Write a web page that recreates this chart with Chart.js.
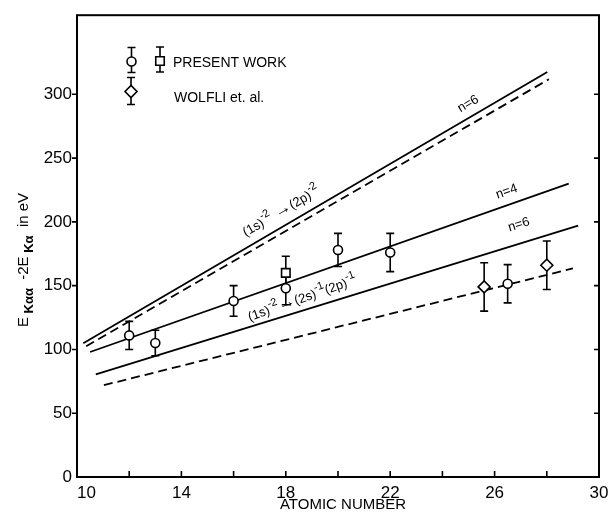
<!DOCTYPE html>
<html><head><meta charset="utf-8">
<script src="https://cdn.jsdelivr.net/npm/chart.js@4/dist/chart.umd.min.js"></script>
<style>html,body{margin:0;padding:0;background:#fff}#c{display:block}</style>
</head><body>
<div style="width:616px;height:517px"><canvas id="c" width="616" height="517"></canvas></div>
<script>
// ---- data ----
const presentZ   = [12, 13, 16, 18, 20, 22, 26.5];
const presentE   = [111, 105, 138, 148, 178, 176, 151.5];
const presentErr = [11, 10, 12, 13, 13, 15, 15];
const squareZ    = [18];
const squareE    = [160];
const squareErr  = [13];
const wolfliZ    = [25.6, 28];
const wolfliE    = [149, 166];
const wolfliErr  = [19, 19];
// theory lines: end points [Z], [E]
const dkSolidZ = [10.24, 28.02], dkSolidE = [104.8, 317.4];
const dkDashZ  = [10.35, 28.08], dkDashE  = [102.5, 311.8];
const n4Z      = [10.5, 28.84],  n4E      = [98, 230];
const n6Z      = [10.72, 29.2],  n6E      = [80.5, 197];
const lowDashZ = [11.03, 29.0],  lowDashE = [72, 163.5];
const xTickLabels = [10, 14, 18, 22, 26, 30];
const yTickLabels = [0, 50, 100, 150, 200, 250, 300];

const FONT = '"Liberation Sans", Arial, sans-serif';
const pts = (zs, es) => zs.map((z, i) => ({x: z, y: es[i]}));

const annotations = [
  {z: 25.06, e: 290, line: 'dkSolid', parts: [{t: 'n=6'}]},
  {z: 26.51, e: 221, line: 'n4', parts: [{t: 'n=4'}]},
  {z: 26.97, e: 195, line: 'n6', parts: [{t: 'n=6'}]},
  {z: 17.9, e: 205.5, line: 'dkSolid', parts: [{t: '(1s)'}, {t: '-2', s: 'sup'}, {t: ' \u2192', s: 'big'}, {t: '(2p)'}, {t: '-2', s: 'sup'}]},
  {z: 18.68, e: 137, line: 'n4', parts: [{t: '(1s)'}, {t: '-2', s: 'sup'}, {t: '\u2192', s: 'big'}, {t: '(2s)'}, {t: '-1', s: 'sup'}, {t: '(2p)'}, {t: '-1', s: 'sup'}]}
];

function setFont(ctx, p, size) {
  const sz = p.s === 'big' ? size + 4 : (p.s === 'sup' || p.s === 'sub') ? size - 2 : size;
  ctx.font = (p.s === 'sub' ? 'bold ' : '') + sz + 'px ' + FONT;
}
function drawRich(ctx, parts, x, y, ang, size, align) {
  ctx.save();
  ctx.translate(x, y);
  ctx.rotate(ang);
  let w = 0;
  parts.forEach(p => { setFont(ctx, p, size); w += ctx.measureText(p.t).width; });
  let cx = align === 'left' ? 0 : -w / 2;
  ctx.textBaseline = 'alphabetic';
  ctx.textAlign = 'left';
  ctx.fillStyle = '#000';
  parts.forEach(p => {
    setFont(ctx, p, size);
    const dy = p.s === 'sup' ? -size * 0.5 : (p.s === 'sub' ? size * 0.35 : 0);
    ctx.fillText(p.t, cx, dy);
    cx += ctx.measureText(p.t).width;
  });
  ctx.restore();
}

const errorBars = {
  id: 'errorBars',
  beforeDatasetsDraw(chart) {
    const ctx = chart.ctx, xs = chart.scales.x, ys = chart.scales.y;
    ctx.save();
    ctx.strokeStyle = '#000';
    ctx.lineWidth = 1.6;
    chart.data.datasets.forEach(ds => {
      if (!ds.errors) return;
      ds.data.forEach((p, i) => {
        const px = xs.getPixelForValue(p.x);
        const t = ys.getPixelForValue(p.y + ds.errors[i]);
        const b = ys.getPixelForValue(p.y - ds.errors[i]);
        ctx.beginPath();
        ctx.moveTo(px, t); ctx.lineTo(px, b);
        ctx.moveTo(px - 4, t); ctx.lineTo(px + 4, t);
        ctx.moveTo(px - 4, b); ctx.lineTo(px + 4, b);
        ctx.stroke();
      });
    });
    // annotations
    const lines = {};
    chart.data.datasets.forEach(ds => { if (ds.key) lines[ds.key] = ds.data; });
    annotations.forEach(a => {
      const d = lines[a.line];
      const ang = Math.atan2(ys.getPixelForValue(d[1].y) - ys.getPixelForValue(d[0].y),
                             xs.getPixelForValue(d[1].x) - xs.getPixelForValue(d[0].x));
      drawRich(ctx, a.parts, xs.getPixelForValue(a.z), ys.getPixelForValue(a.e), ang, 13, 'center');
    });
    ctx.restore();
  },
  afterDraw(chart) {
    const ctx = chart.ctx, ca = chart.chartArea, xs = chart.scales.x, ys = chart.scales.y;
    ctx.save();
    ctx.strokeStyle = '#000';
    ctx.lineWidth = 2;
    ctx.strokeRect(ca.left, ca.top, ca.right - ca.left, ca.bottom - ca.top);
    ctx.lineWidth = 1.6;
    ctx.beginPath();
    xs.ticks.forEach(t => {
      if (t.value <= 10 || t.value >= 30) return;
      const px = xs.getPixelForValue(t.value);
      ctx.moveTo(px, ca.bottom); ctx.lineTo(px, ca.bottom - 6);
    });
    ys.ticks.forEach(t => {
      if (t.value <= 0 || t.value > 300 || t.value % 50) return;
      const py = ys.getPixelForValue(t.value);
      ctx.moveTo(ca.left - 5, py); ctx.lineTo(ca.left, py);
      ctx.moveTo(ca.right, py); ctx.lineTo(ca.right - 5, py);
    });
    ctx.stroke();

    // legend
    const H = Chart.helpers;
    const legendItems = [
      {x: 131.5, y: 61.5, style: 'circle', r: 4.5, up: 14, down: 11},
      {x: 160, y: 61, style: 'rect', r: 6, up: 14, down: 11},
      {x: 131, y: 91.5, style: 'rectRot', r: 6, up: 14, down: 13}
    ];
    ctx.lineWidth = 1.6;
    legendItems.forEach(it => {
      ctx.beginPath();
      ctx.moveTo(it.x, it.y - it.up); ctx.lineTo(it.x, it.y + it.down);
      ctx.moveTo(it.x - 4, it.y - it.up); ctx.lineTo(it.x + 4, it.y - it.up);
      ctx.moveTo(it.x - 4, it.y + it.down); ctx.lineTo(it.x + 4, it.y + it.down);
      ctx.stroke();
      ctx.fillStyle = '#fff';
      ctx.strokeStyle = '#000';
      H.drawPoint(ctx, {pointStyle: it.style, radius: it.r, borderWidth: 1.6, rotation: 0}, it.x, it.y);
    });
    ctx.fillStyle = '#000';
    ctx.font = '14px ' + FONT;
    ctx.textBaseline = 'middle';
    ctx.textAlign = 'left';
    ctx.fillText('PRESENT WORK', 173, 63);
    ctx.fillText('WOLFLI et. al.', 174, 98);

    // axis titles
    ctx.textAlign = 'center';
    ctx.font = '15px ' + FONT;
    ctx.fillText('ATOMIC NUMBER', 343, 505);
    drawRich(ctx, [{t: 'E'}, {t: ' K\u03b1\u03b1', s: 'sub'}, {t: '  -2E'}, {t: ' K\u03b1', s: 'sub'}, {t: '  in eV'}],
             28, 260, -Math.PI / 2, 15, 'center');
    ctx.restore();
  }
};

const lineDs = (key, zs, es, dash) => ({
  key, data: pts(zs, es), showLine: true, pointRadius: 0, borderColor: '#000',
  borderWidth: 1.8, borderDash: dash ? [9, 5] : [], fill: false
});

new Chart(document.getElementById('c'), {
  type: 'scatter',
  data: {
    datasets: [
      {label: 'PRESENT WORK', data: pts(presentZ, presentE), errors: presentErr, pointStyle: 'circle',
       pointRadius: 4.5, pointBorderWidth: 1.6, borderColor: '#000', backgroundColor: '#fff'},
      {label: 'PRESENT WORK (square)', data: pts(squareZ, squareE), errors: squareErr, pointStyle: 'rect',
       pointRadius: 6, pointBorderWidth: 1.6, borderColor: '#000', backgroundColor: '#fff'},
      {label: 'WOLFLI et. al.', data: pts(wolfliZ, wolfliE), errors: wolfliErr, pointStyle: 'rectRot',
       pointRadius: 6, pointBorderWidth: 1.6, borderColor: '#000', backgroundColor: '#fff'},
      lineDs('dkSolid', dkSolidZ, dkSolidE, false),
      lineDs('dkDash', dkDashZ, dkDashE, true),
      lineDs('n4', n4Z, n4E, false),
      lineDs('n6', n6Z, n6E, false),
      lineDs('lowDash', lowDashZ, lowDashE, true)
    ]
  },
  options: {
    responsive: false, animation: false, devicePixelRatio: 1,
    layout: {padding: {top: 7, right: 17, left: 0, bottom: 0}},
    plugins: {legend: {display: false}, tooltip: {enabled: false}},
    scales: {
      x: {
        type: 'linear', min: 10, max: 30,
        afterFit: s => { s.height = 40; },
        grid: {display: false, drawTicks: false}, border: {display: false},
        ticks: {
          stepSize: 2, padding: 6, color: '#000', maxRotation: 0, autoSkip: false,
          font: {family: FONT, size: 17},
          callback: v => xTickLabels.includes(v) ? (v === 10 ? '    10' : String(v)) : ''
        }
      },
      y: {
        type: 'linear', min: 0, max: 362,
        afterFit: s => { s.width = 77; },
        grid: {display: false, drawTicks: false}, border: {display: false},
        ticks: {
          stepSize: 50, padding: 5, color: '#000', autoSkip: false,
          font: {family: FONT, size: 17},
          callback: v => yTickLabels.includes(v) ? String(v) : ''
        }
      }
    }
  },
  plugins: [errorBars]
});
</script>
</body></html>
